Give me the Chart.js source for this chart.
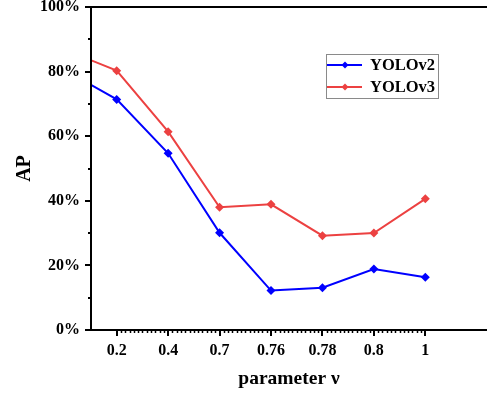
<!DOCTYPE html>
<html>
<head>
<meta charset="utf-8">
<script src="https://cdn.jsdelivr.net/npm/chart.js@4/dist/chart.umd.min.js"></script>
<style>
  html, body { margin: 0; padding: 0; background: #ffffff; }
  #wrap { width: 487px; height: 393px; position: relative; }
</style>
</head>
<body>
<div id="wrap"><canvas id="c"></canvas></div>
<script>
// ---- data ----
const categories = ['0', '0.2', '0.4', '0.7', '0.76', '0.78', '0.8', '1'];
const yolov2 = [80.4, 71.4, 54.7, 30.1, 12.2, 13.1, 18.9, 16.3];
const yolov3 = [86.7, 80.3, 61.4, 38.0, 38.9, 29.2, 30.0, 40.6];
const seriesNames = ['YOLOv2', 'YOLOv3'];
const yTicks = [0, 20, 40, 60, 80, 100];
const xTitle = 'parameter \u03bd';
const yTitle = 'AP';

const FONT = "'Liberation Serif', 'Times New Roman', serif";
const BLUE = '#0000FF';
const RED = '#EC4141';

function toPoints(arr) { return arr.map((v, i) => ({ x: i, y: v })); }

const axesPlugin = {
  id: 'axesPlugin',
  afterDraw(chart) {
    const ctx = chart.ctx;
    const a = chart.chartArea;
    const xs = chart.scales.x, ys = chart.scales.y;
    ctx.save();
    ctx.strokeStyle = '#000';
    ctx.lineWidth = 2;
    ctx.beginPath();
    ctx.moveTo(a.left, a.top); ctx.lineTo(chart.width, a.top);
    ctx.moveTo(a.left, a.top - 1); ctx.lineTo(a.left, a.bottom + 1);
    ctx.moveTo(a.left - 1, a.bottom); ctx.lineTo(chart.width, a.bottom);
    ctx.stroke();
    // y major ticks
    ctx.beginPath();
    yTicks.forEach(v => {
      const y = Math.round(ys.getPixelForValue(v));
      ctx.moveTo(a.left - 6, y); ctx.lineTo(a.left, y);
    });
    ctx.stroke();
    // y minor ticks
    ctx.beginPath();
    for (let i = 0; i < yTicks.length - 1; i++) {
      const v = (yTicks[i] + yTicks[i + 1]) / 2;
      const y = Math.round(ys.getPixelForValue(v));
      ctx.moveTo(a.left - 3, y); ctx.lineTo(a.left, y);
    }
    ctx.stroke();
    // x major ticks
    ctx.beginPath();
    for (let i = 1; i < categories.length; i++) {
      const x = Math.round(xs.getPixelForValue(i));
      ctx.moveTo(x, a.bottom); ctx.lineTo(x, a.bottom + 6);
    }
    ctx.stroke();
    // x minor ticks (between labelled categories only)
    ctx.lineWidth = 1.5;
    ctx.beginPath();
    for (let k = 12; k < (categories.length - 1) * 12; k++) {
      if (k % 12 === 0) continue;
      const x = Math.round(xs.getPixelForValue(k / 12)) + 0.5;
      ctx.moveTo(x, a.bottom); ctx.lineTo(x, a.bottom + 3);
    }
    ctx.stroke();

    // legend
    const lx = 326, ly = 54, lw = 112, lh = 44;
    ctx.lineWidth = 1;
    ctx.strokeStyle = '#8a8a8a';
    ctx.strokeRect(lx + 0.5, ly + 0.5, lw, lh);
    chart.data.datasets.forEach((ds, i) => {
      const y = 65 + 22 * i;
      ctx.strokeStyle = ds.borderColor;
      ctx.lineWidth = 2;
      ctx.beginPath();
      ctx.moveTo(327, y); ctx.lineTo(362, y);
      ctx.stroke();
      ctx.fillStyle = ds.borderColor;
      ctx.beginPath();
      const cx = 345, r = 3.5;
      ctx.moveTo(cx, y - r); ctx.lineTo(cx + r, y); ctx.lineTo(cx, y + r); ctx.lineTo(cx - r, y);
      ctx.closePath();
      ctx.fill();
      ctx.fillStyle = '#000';
      ctx.font = 'bold 16.5px ' + FONT;
      ctx.textBaseline = 'middle';
      ctx.textAlign = 'left';
      ctx.fillText(ds.label, 370, y + 1);
    });
    ctx.restore();
  }
};

const chart = new Chart(document.getElementById('c'), {
  type: 'line',
  data: {
    datasets: [
      {
        label: seriesNames[0],
        data: toPoints(yolov2),
        borderColor: BLUE,
        backgroundColor: BLUE,
        borderWidth: 2,
        pointStyle: 'rectRot',
        pointRadius: 4.5,
        pointHoverRadius: 4.5,
        pointBorderWidth: 0,
        tension: 0,
        clip: 0
      },
      {
        label: seriesNames[1],
        data: toPoints(yolov3),
        borderColor: RED,
        backgroundColor: RED,
        borderWidth: 2,
        pointStyle: 'rectRot',
        pointRadius: 4.5,
        pointHoverRadius: 4.5,
        pointBorderWidth: 0,
        tension: 0,
        clip: 0
      }
    ]
  },
  options: {
    responsive: true,
    maintainAspectRatio: false,
    animation: false,
    events: [],
    layout: { autoPadding: false, padding: { top: 7, right: 0, left: 0, bottom: 0 } },
    plugins: { legend: { display: false }, tooltip: { enabled: false } },
    scales: {
      x: {
        type: 'linear',
        min: 0.5,
        max: 8.2,
        afterBuildTicks(scale) {
          scale.ticks = categories.map((c, i) => ({ value: i })).filter(t => t.value >= 1);
        },
        afterFit(scale) {
          scale.height = 63;
          scale.paddingLeft = 0; scale.paddingRight = 0;
          scale.paddingTop = 0; scale.paddingBottom = 0;
        },
        grid: { display: false, drawTicks: false },
        border: { display: false },
        ticks: {
          autoSkip: false,
          maxRotation: 0,
          padding: 11,
          color: '#000',
          font: { family: FONT, size: 16, weight: 'bold' },
          callback: (v) => categories[v]
        },
        title: {
          display: true,
          text: xTitle,
          color: '#000',
          font: { family: FONT, size: 19.5, weight: 'bold' },
          padding: { top: 0, bottom: 2 }
        }
      },
      y: {
        min: 0,
        max: 100,
        afterBuildTicks(scale) {
          scale.ticks = yTicks.map(v => ({ value: v }));
        },
        afterFit(scale) {
          scale.width = 91;
          scale.paddingLeft = 0; scale.paddingRight = 0;
          scale.paddingTop = 0; scale.paddingBottom = 0;
        },
        grid: { display: false, drawTicks: false },
        border: { display: false },
        ticks: {
          padding: 11,
          color: '#000',
          font: { family: FONT, size: 16, weight: 'bold' },
          callback: (v) => v + '%'
        },
        title: {
          display: true,
          text: yTitle,
          color: '#000',
          font: { family: FONT, size: 20, weight: 'bold' },
          padding: { top: 13, bottom: 0 }
        }
      }
    }
  },
  plugins: [axesPlugin]
});
</script>
</body>
</html>
